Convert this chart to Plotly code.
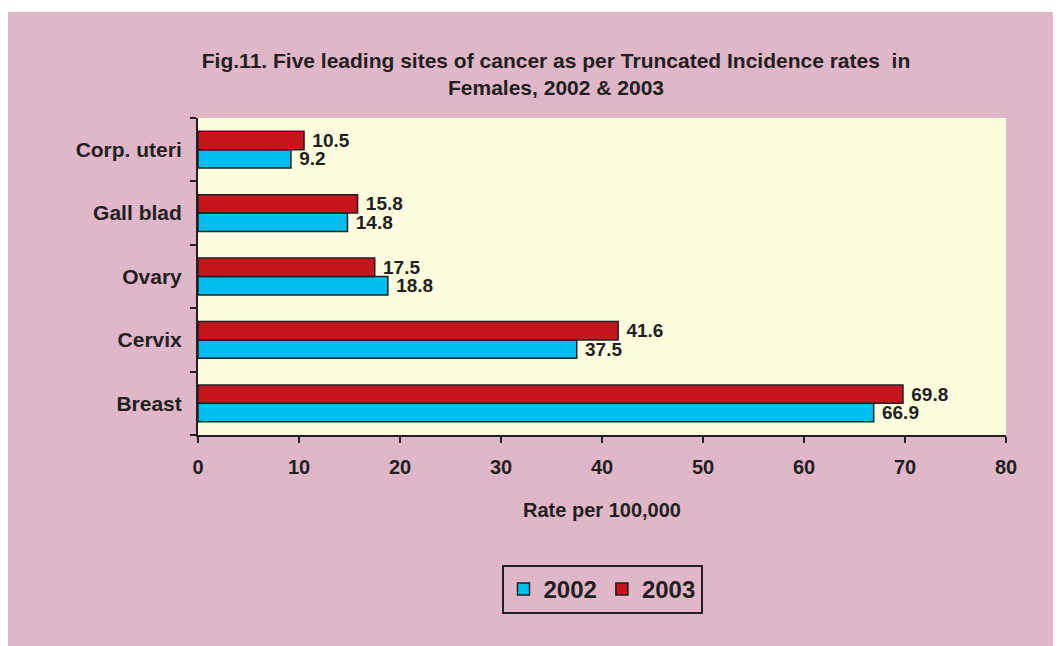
import plotly.graph_objects as go

sites = ["Breast", "Cervix", "Ovary", "Gall blad", "Corp. uteri"]
rate_2002 = [66.9, 37.5, 18.8, 14.8, 9.2]
rate_2003 = [69.8, 41.6, 17.5, 15.8, 10.5]
x_ticks = [0, 10, 20, 30, 40, 50, 60, 70, 80]

# page body adds an 8px offset, so the figure is sized to fit the window
W, H = 1053, 638
L, R, T, B = 190, 55, 110, 211
dark = "#231F20"
font = "Arial, Liberation Sans, sans-serif"

fig = go.Figure()
for name, vals, color in [("2002", rate_2002, "#00BFF0"), ("2003", rate_2003, "#C4161C")]:
    fig.add_trace(
        go.Bar(
            y=sites,
            x=vals,
            name=name,
            orientation="h",
            marker={"color": color, "line": {"color": dark, "width": 1.5}},
            text=[f"{v:.1f}" for v in vals],
            texttemplate="\u00a0%{text}",
            textposition="outside",
            constraintext="none",
            textfont={"size": 19, "color": dark, "family": font, "weight": "bold"},
            cliponaxis=False,
        )
    )

# thin white strip along the top of the picture
pw, ph = W - L - R, H - T - B
fig.add_shape(type="rect", xref="paper", yref="paper", layer="above",
              x0=-L / pw, x1=(W - L) / pw, y0=(H - B - 4) / ph, y1=(H - B) / ph,
              line={"width": 0}, fillcolor="white")

fig.update_layout(
    width=W,
    height=H,
    margin={"l": L, "r": R, "t": T, "b": B},
    paper_bgcolor="#E0B6C9",
    plot_bgcolor="#FFFDE0",
    barmode="group",
    bargap=0.42,
    bargroupgap=0,
    font={"family": font, "color": dark},
    title={
        "text": "<b>Fig.11. Five leading sites of cancer as per Truncated Incidence rates  in<br>Females, 2002 & 2003</b>",
        "x": 548 / W,
        "xanchor": "center",
        "y": 1 - 60 / H,
        "yanchor": "middle",
        "font": {"size": 21, "color": dark},
    },
    legend={
        "orientation": "h",
        "x": 0.5,
        "xanchor": "center",
        "y": -0.41,
        "yanchor": "top",
        "bordercolor": dark,
        "borderwidth": 2,
        "bgcolor": "rgba(0,0,0,0)",
        "font": {"size": 24, "color": dark, "weight": "bold"},
        "itemwidth": 30,
    },
    showlegend=True,
)
fig.update_xaxes(
    range=[0, 80],
    tickvals=x_ticks,
    showgrid=False,
    zeroline=False,
    showline=True,
    linecolor=dark,
    linewidth=2,
    ticks="outside",
    ticklen=6,
    tickwidth=2,
    tickcolor=dark,
    tickfont={"size": 20, "weight": "bold"},
    ticklabelstandoff=7,
    title={"text": "<b>Rate per 100,000</b>", "font": {"size": 20}, "standoff": 26},
)
fig.update_yaxes(
    showgrid=False,
    showline=True,
    linecolor=dark,
    linewidth=2,
    ticks="outside",
    tickson="boundaries",
    ticklen=6,
    tickwidth=2,
    tickcolor=dark,
    tickfont={"size": 21, "weight": "bold"},
    ticklabelstandoff=10,
)

fig.write_html("out.html")
